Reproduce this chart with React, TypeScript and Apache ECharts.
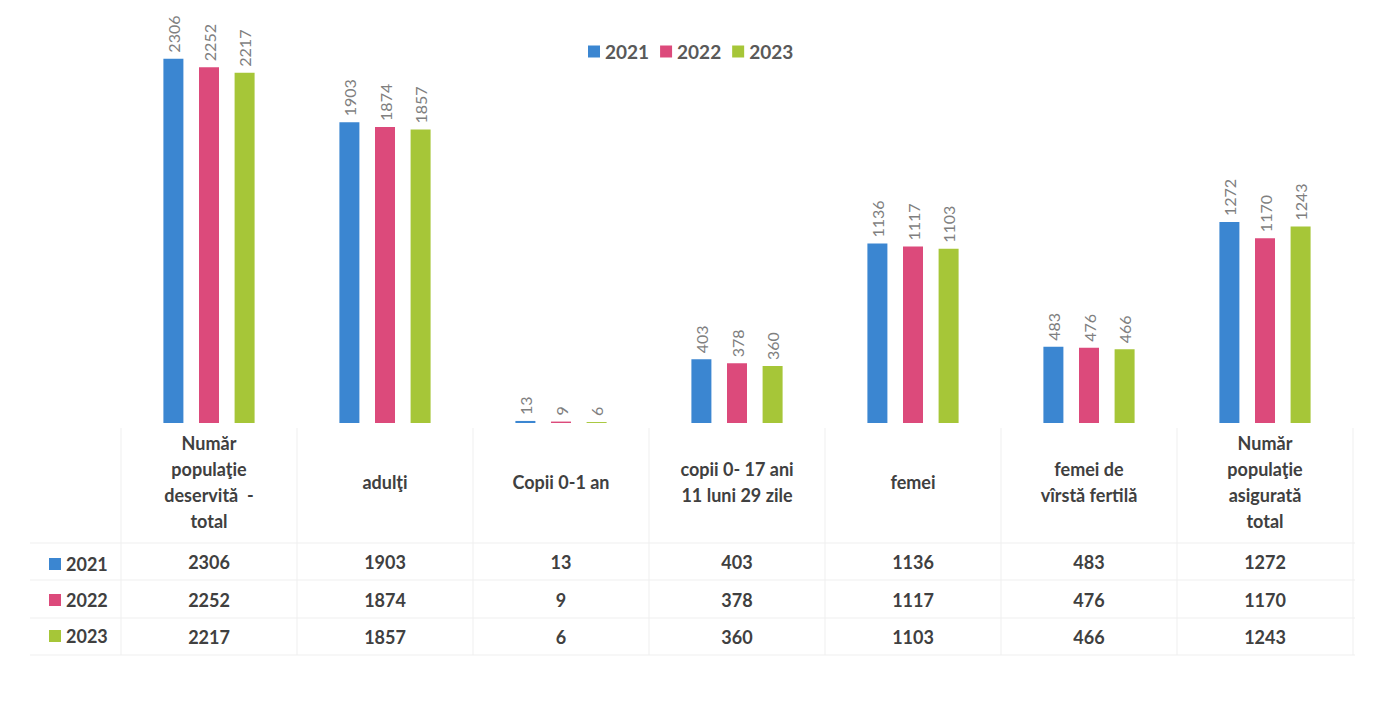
import React, { useEffect, useRef } from "react";
import * as echarts from "echarts";

const categories = [
  "Număr\npopulaţie\ndeservită  -\ntotal",
  "adulţi",
  "Copii 0-1 an",
  "copii 0- 17 ani\n11 luni 29 zile",
  "femei",
  "femei de\nvîrstă fertilă",
  "Număr\npopulaţie\nasigurată\ntotal",
];
const years = ["2021", "2022", "2023"];
const values2021 = [2306, 1903, 13, 403, 1136, 483, 1272];
const values2022 = [2252, 1874, 9, 378, 1117, 476, 1170];
const values2023 = [2217, 1857, 6, 360, 1103, 466, 1243];
const colors = ["#3b86d1", "#dc4a7b", "#a6c638"];

export default function App() {
  const ref = useRef<HTMLDivElement>(null);
  useEffect(() => {
    document.body.style.margin = "0";
    const chart = echarts.init(ref.current!, null, { renderer: "svg" });
    const font = "Lato, 'Open Sans', sans-serif";
    const seriesValues = [values2021, values2022, values2023];
    const rowMargins = [139, 177, 214];
    const lineColor = "#efefef";
    const hLines = [543, 580, 618, 655].map((y) => ({
      type: "line",
      shape: { x1: 30, y1: y, x2: 1355, y2: y },
      style: { stroke: lineColor, lineWidth: 1 },
      silent: true,
    }));
    const vLines = [121, 297, 473, 649, 825, 1001, 1177, 1353].map((x) => ({
      type: "line",
      shape: { x1: x, y1: 428, x2: x, y2: 655 },
      style: { stroke: lineColor, lineWidth: 1 },
      silent: true,
    }));
    chart.setOption({
      animation: false,
      backgroundColor: "#ffffff",
      color: colors,
      textStyle: { fontFamily: font },
      graphic: [...hLines, ...vLines],
      legend: [
        {
          data: years,
          left: 583,
          top: 37,
          icon: "rect",
          itemWidth: 12,
          itemHeight: 12,
          itemGap: 11,
          selectedMode: false,
          textStyle: { fontSize: 19, color: "#595959", fontWeight: "bold", fontFamily: font },
        },
        {
          data: years,
          orient: "vertical",
          left: 44,
          top: 549,
          icon: "rect",
          itemWidth: 12,
          itemHeight: 12,
          itemGap: 16,
          selectedMode: false,
          textStyle: { fontSize: 18, lineHeight: 20, color: "#404040", fontWeight: "bold", fontFamily: font },
        },
      ],
      grid: { left: 121, right: 23, top: 28, bottom: 302 },
      xAxis: [
        {
          type: "category",
          data: categories,
          axisLine: { show: false },
          axisTick: { show: false },
          axisLabel: {
            interval: 0,
            margin: 59,
            verticalAlign: "middle",
            lineHeight: 26,
            fontSize: 18,
            fontWeight: "bold",
            color: "#404040",
            fontFamily: font,
          },
        },
        ...seriesValues.map((vals, i) => ({
          type: "category",
          position: "bottom",
          data: vals.map(String),
          axisLine: { show: false },
          axisTick: { show: false },
          axisLabel: {
            interval: 0,
            margin: rowMargins[i],
            verticalAlign: "middle",
            fontSize: 18,
            fontWeight: "bold",
            color: "#404040",
            fontFamily: font,
          },
        })),
      ],
      yAxis: { type: "value", min: 0, max: 2500, show: false },
      series: years.map((y, i) => ({
        name: y,
        type: "bar",
        xAxisIndex: 0,
        data: seriesValues[i],
        barWidth: 20,
        barGap: "78%",
        label: {
          show: true,
          position: "top",
          rotate: 90,
          align: "left",
          verticalAlign: "middle",
          distance: 6,
          color: "#7f7f7f",
          fontSize: 16,
          fontFamily: font,
        },
      })),
    });
    return () => chart.dispose();
  }, []);
  return <div ref={ref} style={{ width: 1376, height: 725 }} />;
}
